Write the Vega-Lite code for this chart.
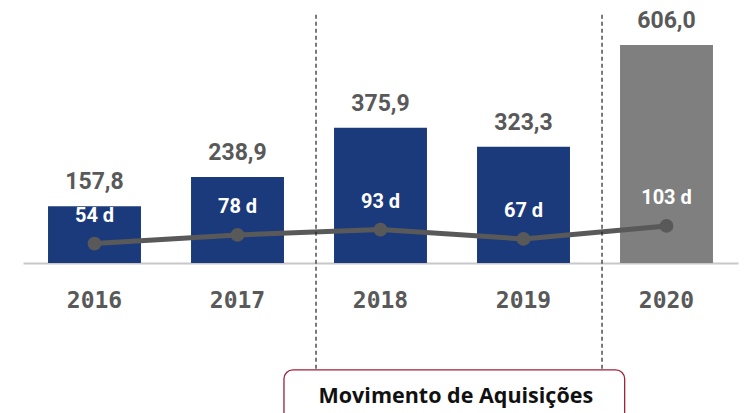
{
  "$schema": "https://vega.github.io/schema/vega-lite/v6.json",
  "autosize": {"type": "none"},
  "width": 715,
  "height": 263,
  "padding": {"left": 23, "top": 0, "right": 8, "bottom": 150},
  "config": {
    "view": {"stroke": null},
    "locale": {"number": {"decimal": ",", "thousands": ".", "grouping": [3], "currency": ["R$", ""]}}
  },
  "data": {
    "values": [
      {"year": "2016", "value": 157.8, "days": 54, "dlabel": "54 d", "group": "a"},
      {"year": "2017", "value": 238.9, "days": 78, "dlabel": "78 d", "group": "a"},
      {"year": "2018", "value": 375.9, "days": 93, "dlabel": "93 d", "group": "a"},
      {"year": "2019", "value": 323.3, "days": 67, "dlabel": "67 d", "group": "a"},
      {"year": "2020", "value": 606.0, "days": 103, "dlabel": "103 d", "group": "b"}
    ]
  },
  "encoding": {
    "x": {
      "field": "year", "type": "ordinal",
      "scale": {"paddingInner": 0.35, "paddingOuter": 0.175},
      "axis": {
        "title": null, "labelAngle": 0, "ticks": false,
        "domainColor": "#c8c8c8", "domainWidth": 2,
        "labelFont": "DejaVu Sans Mono", "labelFontWeight": "bold", "labelFontSize": 23,
        "labelColor": "#595959", "labelPadding": 26
      }
    }
  },
  "layer": [
    {
      "mark": {"type": "bar"},
      "encoding": {
        "y": {"field": "value", "type": "quantitative", "scale": {"domain": [0, 731], "nice": false}, "axis": null},
        "color": {"field": "group", "type": "nominal", "scale": {"domain": ["a", "b"], "range": ["#1b3a7b", "#7f7f7f"]}, "legend": null}
      }
    },
    {
      "mark": {"type": "text", "font": "Roboto", "fontWeight": "bold", "fontSize": 23, "color": "#595959", "baseline": "bottom", "dy": -12},
      "encoding": {
        "y": {"field": "value", "type": "quantitative"},
        "text": {"field": "value", "type": "quantitative", "format": ".1f"}
      }
    },
    {
      "mark": {"type": "line", "color": "#595959", "strokeWidth": 5},
      "encoding": {
        "y": {"field": "days", "type": "quantitative"}
      }
    },
    {
      "mark": {"type": "point", "filled": true, "opacity": 1, "color": "#595959", "size": 190},
      "encoding": {
        "y": {"field": "days", "type": "quantitative"}
      }
    },
    {
      "mark": {"type": "text", "font": "Roboto", "fontWeight": "bold", "fontSize": 20, "color": "white", "baseline": "middle", "dy": -28},
      "encoding": {
        "y": {"field": "days", "type": "quantitative"},
        "text": {"field": "dlabel"}
      }
    },
    {
      "data": {"values": [{"year": "2018", "top": 690, "bottom": -297}, {"year": "2020", "top": 690, "bottom": -297}]},
      "mark": {"type": "rule", "color": "#222222", "strokeWidth": 1.2, "strokeDash": [4, 3], "xOffset": -18},
      "encoding": {
        "x": {"field": "year", "type": "ordinal", "bandPosition": 0},
        "y": {"field": "top", "type": "quantitative"},
        "y2": {"field": "bottom"}
      }
    },
    {
      "data": {"values": [{"from": "2017", "to": "2020", "top": -297, "bottom": -480}]},
      "mark": {"type": "rect", "fill": "white", "stroke": "#a0203a", "strokeWidth": 1.3, "cornerRadius": 9},
      "encoding": {
        "x": {"field": "from", "type": "ordinal", "bandPosition": 1},
        "x2": {"field": "to", "bandPosition": 0.05},
        "y": {"field": "top", "type": "quantitative"},
        "y2": {"field": "bottom"}
      }
    },
    {
      "data": {"values": [{"year": "2018", "pos": -365, "label": "Movimento de Aquisições"}]},
      "mark": {"type": "text", "font": "Open Sans", "fontWeight": "bold", "fontSize": 21.5, "color": "#111111", "baseline": "middle", "align": "center", "dy": 3},
      "encoding": {
        "x": {"field": "year", "type": "ordinal", "bandPosition": 1.31},
        "y": {"field": "pos", "type": "quantitative"},
        "text": {"field": "label"}
      }
    }
  ]
}
